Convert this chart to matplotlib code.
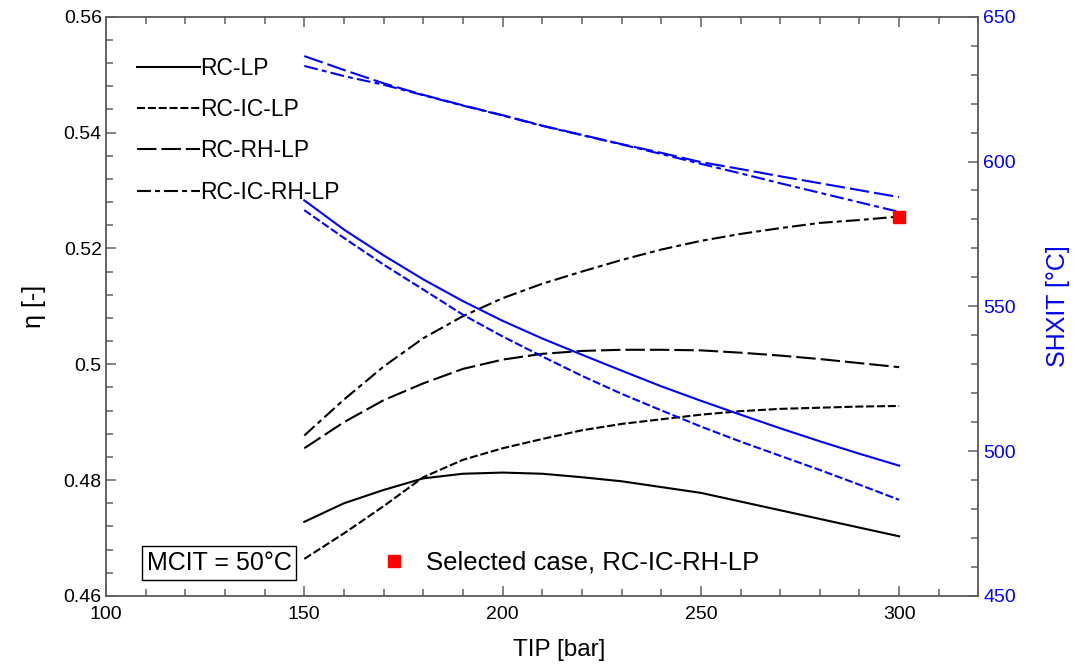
import matplotlib.pyplot as plt
from matplotlib.ticker import MultipleLocator, FuncFormatter
from matplotlib.lines import Line2D

plt.rcParams['font.family'] = ['Liberation Sans', 'DejaVu Sans']
plt.rcParams['lines.scale_dashes'] = False

# turbine inlet pressure [bar]
tip = [150, 160, 170, 180, 190, 200, 210, 220, 230, 240, 250, 260, 270, 280, 290, 300]

# efficiency (left axis)
eta_rc_lp = [0.4728, 0.4760, 0.4783, 0.4803, 0.4811, 0.4813, 0.4811, 0.4805,
             0.4798, 0.4788, 0.4778, 0.4763, 0.4748, 0.4733, 0.4718, 0.4703]
eta_rc_ic_lp = [0.4664, 0.4708, 0.4755, 0.4805, 0.4835, 0.4855, 0.4871, 0.4886,
                0.4897, 0.4905, 0.4913, 0.4919, 0.4923, 0.4925, 0.4927, 0.4928]
eta_rc_rh_lp = [0.4855, 0.4900, 0.4938, 0.4967, 0.4992, 0.5008, 0.5018, 0.5023,
                0.5025, 0.5025, 0.5024, 0.5020, 0.5015, 0.5009, 0.5002, 0.4995]
eta_rc_ic_rh_lp = [0.4877, 0.4939, 0.4996, 0.5045, 0.5083, 0.5114, 0.5139, 0.5160,
                   0.5180, 0.5198, 0.5213, 0.5225, 0.5235, 0.5244, 0.5249, 0.5255]

# SHX inlet temperature (right axis)
shxit_rc_lp = [586.6, 576.5, 567.6, 559.3, 551.8, 545.0, 538.9, 533.3,
               527.8, 522.4, 517.4, 512.6, 507.9, 503.4, 499.1, 495.0]
shxit_rc_ic_lp = [583.2, 573.6, 564.4, 555.8, 547.1, 539.6, 532.7, 526.0,
                  519.8, 514.1, 508.5, 503.3, 498.4, 493.5, 488.4, 483.2]
shxit_rc_rh_lp = [636.4, 631.6, 627.0, 623.0, 619.4, 616.0, 612.4, 609.2,
                  606.0, 603.0, 599.8, 597.4, 594.9, 592.5, 590.1, 587.7]
shxit_rc_ic_rh_lp = [633.0, 629.5, 626.5, 622.9, 619.3, 615.9, 612.3, 609.1,
                     605.9, 602.6, 599.2, 595.9, 592.5, 589.2, 585.9, 582.6]

labels = ['RC-LP', 'RC-IC-LP', 'RC-RH-LP', 'RC-IC-RH-LP']
styles = ['-', (0, (5.8, 2.0)), (0, (14, 3.6)), (0, (10, 3, 3.5, 3))]

sel_tip = 300
sel_eta = 0.5255

blue = '#0000ff'
grey = '#606060'

fig = plt.figure(figsize=(10.75, 6.65), dpi=100)
ax = fig.add_axes([0.0986, 0.1038, 0.8116, 0.8711])
ax2 = ax.twinx()

eta_all = [eta_rc_lp, eta_rc_ic_lp, eta_rc_rh_lp, eta_rc_ic_rh_lp]
t_all = [shxit_rc_lp, shxit_rc_ic_lp, shxit_rc_rh_lp, shxit_rc_ic_rh_lp]

for e, t, ls in zip(eta_all, t_all, styles):
    ax.plot(tip, e, color='black', lw=1.5, linestyle=ls)
    ax2.plot(tip, t, color=blue, lw=1.5, linestyle=ls)

# selected case marker (eta mapped onto the right axis scale)
ax2.plot([sel_tip], [450 + (sel_eta - 0.46) * 2000], 's', color='red', ms=9, zorder=5)

ax.set_xlim(100, 320)
ax.set_ylim(0.46, 0.56)
ax2.set_ylim(450, 650)

ax.xaxis.set_major_locator(MultipleLocator(50))
ax.xaxis.set_minor_locator(MultipleLocator(10))
ax.yaxis.set_major_locator(MultipleLocator(0.02))
ax.yaxis.set_minor_locator(MultipleLocator(0.004))
ax.yaxis.set_major_formatter(FuncFormatter(lambda v, p: '{:g}'.format(round(v, 3))))
ax2.yaxis.set_major_locator(MultipleLocator(50))
ax2.yaxis.set_minor_locator(MultipleLocator(10))

ax.tick_params(which='both', direction='in', top=True, right=False, color=grey, width=1.1)
ax.tick_params(which='major', length=7.5)
ax.tick_params(which='minor', length=4.8)
ax.tick_params(axis='x', labelsize=14, pad=7)
ax.tick_params(axis='y', labelsize=14, pad=3)
ax2.tick_params(which='both', direction='in', color=grey, width=1.1, labelcolor=blue, labelsize=14, pad=3.5)
ax2.tick_params(which='major', length=7.5)
ax2.tick_params(which='minor', length=4.8)

for a in (ax, ax2):
    for s in a.spines.values():
        s.set_color(grey)
        s.set_linewidth(1.1)

ax.set_xlabel('TIP [bar]', fontsize=17.5)
ax.xaxis.set_label_coords(0.519, -0.074)
ax.set_ylabel('η [-]', fontsize=18)
ax.yaxis.set_label_coords(-0.069, 0.5)
ax2.set_ylabel('SHXIT [°C]', fontsize=18, color=blue)
ax2.yaxis.set_label_coords(1.077, 0.5)

handles = [Line2D([], [], color='black', lw=1.5, linestyle=ls) for ls in styles]
ax.legend(handles, labels, loc='upper left', bbox_to_anchor=(0.0355, 0.931),
          frameon=False, fontsize=16.5, handlelength=2.75, handletextpad=0.0,
          labelspacing=0.8, borderpad=0, borderaxespad=0)

ax.text(0.1295, 0.057, 'MCIT = 50°C', transform=ax.transAxes, fontsize=18,
        ha='center', va='center',
        bbox=dict(boxstyle='square,pad=0.2', fc='white', ec='black', lw=1))
ax.plot([0.330], [0.0596], 's', color='red', ms=8, transform=ax.transAxes)
ax.text(0.3668, 0.057, 'Selected case, RC-IC-RH-LP', transform=ax.transAxes,
        fontsize=18.5, ha='left', va='center')

fig.savefig('out.png', dpi=100)
